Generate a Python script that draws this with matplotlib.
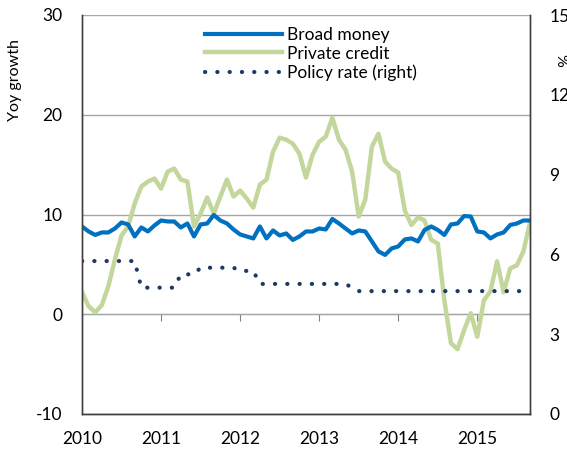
import matplotlib
matplotlib.use("Agg")
import matplotlib.pyplot as plt
import numpy as np

# monthly data, Jan 2010 .. Sep 2015
broad_money = [8.8, 8.3, 7.95, 8.2, 8.2, 8.6, 9.2, 9.0, 7.8, 8.7, 8.3, 8.9,
               9.4, 9.3, 9.3, 8.7, 9.1, 7.8, 9.0, 9.1, 9.95, 9.4, 9.1, 8.5,
               8.0, 7.8, 7.6, 8.8, 7.6, 8.4, 7.9, 8.1, 7.45, 7.8, 8.3, 8.3,
               8.6, 8.5, 9.55, 9.1, 8.6, 8.1, 8.4, 8.3, 7.3, 6.3, 5.95, 6.6,
               6.8, 7.5, 7.6, 7.3, 8.45, 8.8, 8.45, 7.95, 9.0, 9.1, 9.85, 9.8,
               8.3, 8.2, 7.6, 8.0, 8.2, 8.95, 9.1, 9.4, 9.4]
private_credit = [2.2, 0.8, 0.2, 0.9, 2.8, 5.5, 7.9, 8.8, 11.1, 12.8, 13.3, 13.6,
                  12.6, 14.3, 14.6, 13.5, 13.3, 8.8, 10.1, 11.7, 10.1, 11.8, 13.5, 11.8,
                  12.4, 11.6, 10.7, 13.0, 13.5, 16.3, 17.7, 17.5, 17.1, 16.1, 13.7, 16.0,
                  17.3, 17.8, 19.7, 17.5, 16.5, 14.3, 9.8, 11.5, 16.8, 18.1, 15.3, 14.6,
                  14.2, 10.4, 8.95, 9.7, 9.4, 7.45, 7.1, 1.4, -2.9, -3.5, -1.6, 0.1,
                  -2.25, 1.4, 2.3, 5.3, 2.2, 4.6, 4.9, 6.3, 9.2]
policy_rate = [5.75] * 9 + [4.75] * 6 + [5.25] * 3 + [5.5] * 6 + [5.38] * 3 \
    + [4.89] * 14 + [4.75] + [4.62] * 27
years = ["2010", "2011", "2012", "2013", "2014", "2015"]

months = np.arange(len(broad_money))

plt.rcParams['font.family'] = ['Lato', 'DejaVu Sans']
plt.rcParams['font.size'] = 12.5
plt.rcParams['axes.unicode_minus'] = False

fig = plt.figure(figsize=(5.67, 4.51), dpi=100)
ax = fig.add_axes([82/567, 37/451, 448/567, 399/451])
ax2 = ax.twinx()

l1, = ax.plot(months, broad_money, color="#0070C0", lw=3, solid_joinstyle="round", zorder=3)
l2, = ax.plot(months, private_credit, color="#C3D69B", lw=3.2, solid_joinstyle="round", zorder=2)
l3, = ax2.plot(months, policy_rate, color="#1F3864", lw=3, linestyle=(0, (0.05, 2.9)),
               dash_capstyle="round")

ax.set_xlim(0, len(months) - 1)
ax.set_ylim(-10, 30)
ax.set_yticks([-10, 0, 10, 20, 30])
ax2.set_ylim(0, 15)
ax2.set_yticks([0, 3, 6, 9, 12, 15])

ax.grid(axis="y", color="#A6A6A6", lw=1)
ax.set_axisbelow(True)

ax.set_xticks(np.arange(0, 72, 12))
ax.set_xticklabels(years)
ax.tick_params(axis="x", length=0, pad=12)
ax.tick_params(axis="y", length=0, pad=14)
ax2.tick_params(axis="y", length=0, pad=14)

for a in (ax, ax2):
    a.spines["top"].set_visible(False)
    for s in ("left", "right", "bottom"):
        a.spines[s].set_color("#404040")
        a.spines[s].set_linewidth(1)

# tick marks along the zero line
sec = ax.secondary_xaxis(0.25)
sec.set_xticks(np.arange(12, 72, 12))
sec.set_xticklabels([])
sec.tick_params(axis="x", direction="out", length=5, color="#808080")
sec.spines["bottom"].set_color("#808080")

fig.text(15/567, 1 - 80/451, "Yoy growth", rotation=90, ha="center", va="center", fontsize=11.5)
fig.text(560/567, 1 - 60/451, "%", rotation=-90, ha="center", va="center", fontsize=11.5)

ax.legend([l1, l2, l3], ["Broad money", "Private credit", "Policy rate (right)"],
          loc="upper left", bbox_to_anchor=(0.275, 0.97), frameon=False,
          borderpad=0, borderaxespad=0, handlelength=4.4, handletextpad=0.3,
          labelspacing=0.15, fontsize=12.5)

fig.savefig("out.png", dpi=100)
